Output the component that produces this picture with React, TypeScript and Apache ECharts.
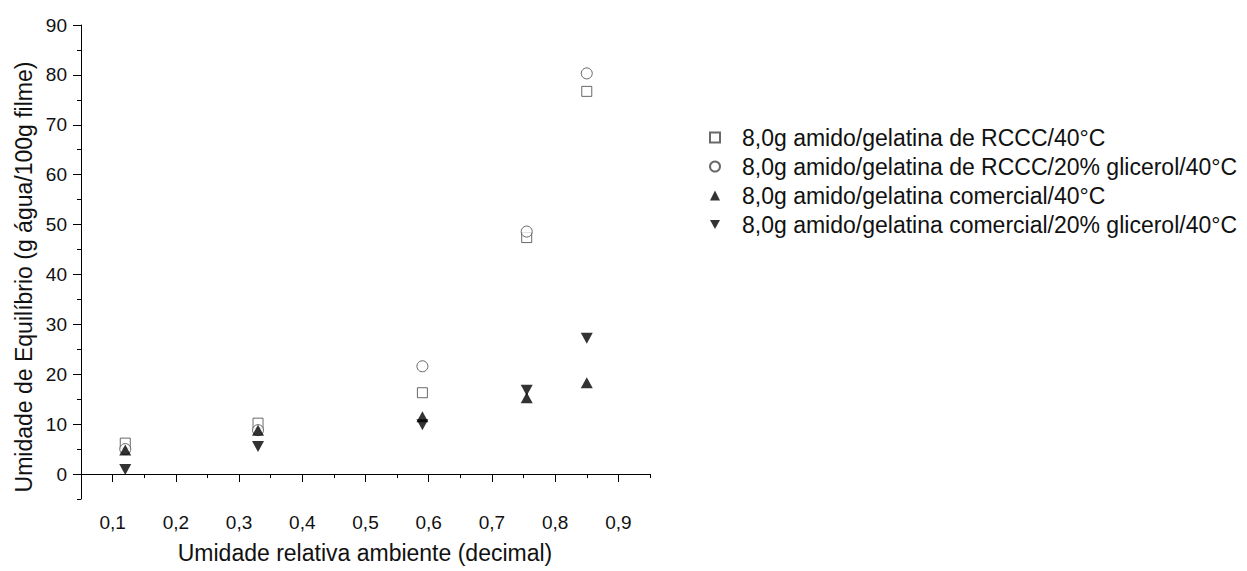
import React, { useEffect, useRef } from "react";
import * as echarts from "echarts";

const humidity = [0.12, 0.33, 0.59, 0.755, 0.85];
const rcccPlain = [6.2, 10.2, 16.3, 47.4, 76.7];
const rcccGlycerol = [5.0, 8.8, 21.6, 48.6, 80.3];
const commercialPlain = [4.8, 8.8, 11.5, 15.3, 18.3];
const commercialGlycerol = [0.9, 5.5, 9.9, 16.8, 27.2];

const seriesNames = [
  "8,0g amido/gelatina de RCCC/40°C",
  "8,0g amido/gelatina de RCCC/20% glicerol/40°C",
  "8,0g amido/gelatina comercial/40°C",
  "8,0g amido/gelatina comercial/20% glicerol/40°C",
];
const xTitle = "Umidade relativa ambiente (decimal)";
const yTitle = "Umidade de Equilíbrio (g água/100g filme)";

const FONT = "'Liberation Sans', Arial, sans-serif";
const DOWN_TRIANGLE = "path://M0,0L12,0L6,11Z";

const toPoints = (vals: number[]) => humidity.map((x, i) => [x, vals[i]]);

export default function App() {
  const ref = useRef<HTMLDivElement>(null);
  useEffect(() => {
    document.body.style.margin = "0";
    if (!ref.current) return;
    const chart = echarts.init(ref.current, null, { renderer: "svg" });
    const axisLine = { show: true, lineStyle: { color: "#000", width: 1 } };
    const labelStyle = { color: "#111", fontSize: 19, fontFamily: FONT };
    chart.setOption({
      animation: false,
      backgroundColor: "#fff",
      grid: { left: 81, top: 25, right: 597, bottom: 72, containLabel: false },
      xAxis: [
        {
          type: "value",
          position: "bottom",
          min: 0.05,
          max: 0.95,
          interval: 0.05,
          axisLine,
          axisTick: { show: true, length: 4, lineStyle: { color: "#000" } },
          axisLabel: { show: false },
          splitLine: { show: false },
        },
        {
          type: "value",
          position: "bottom",
          min: 0.05,
          max: 0.95,
          splitNumber: 9,
          axisLine: { show: false },
          axisTick: { show: true, length: 8, lineStyle: { color: "#000" } },
          axisLabel: {
            ...labelStyle,
            margin: 14,
            showMinLabel: false,
            showMaxLabel: false,
            formatter: (v: number) => v.toFixed(1).replace(".", ","),
          },
          splitLine: { show: false },
        },
      ],
      yAxis: [
        {
          type: "value",
          position: "left",
          min: -5,
          max: 90,
          interval: 5,
          axisLine,
          axisTick: { show: true, length: 4, lineStyle: { color: "#000" } },
          axisLabel: { show: false },
          splitLine: { show: false },
        },
        {
          type: "value",
          position: "left",
          min: -5,
          max: 90,
          splitNumber: 10,
          axisLine: { show: false },
          axisTick: { show: true, length: 8, lineStyle: { color: "#000" } },
          axisLabel: { ...labelStyle, margin: 14, showMinLabel: false },
          splitLine: { show: false },
        },
      ],
      legend: {
        orient: "vertical",
        left: 704,
        top: 120,
        itemWidth: 10,
        itemHeight: 10,
        itemGap: 4,
        textStyle: { color: "#111", fontSize: 23, fontFamily: FONT, padding: [0, 0, 0, 17], lineHeight: 25 },
        data: seriesNames,
      },
      graphic: [
        {
          type: "text",
          x: 24,
          y: 277,
          rotation: Math.PI / 2,
          style: { text: yTitle, fontSize: 23, fontFamily: FONT, fill: "#111", align: "center", verticalAlign: "middle" },
        },
        {
          type: "text",
          x: 365,
          y: 553,
          style: { text: xTitle, fontSize: 23, fontFamily: FONT, fill: "#111", align: "center", verticalAlign: "middle" },
        },
      ],
      series: [
        {
          type: "scatter",
          name: seriesNames[0],
          data: toPoints(rcccPlain),
          symbol: "rect",
          symbolSize: 10,
          itemStyle: { color: "#fff", borderColor: "#444", borderWidth: 1 },
        },
        {
          type: "scatter",
          name: seriesNames[1],
          data: toPoints(rcccGlycerol),
          symbol: "circle",
          symbolSize: 11,
          itemStyle: { color: "#fff", borderColor: "#444", borderWidth: 1 },
        },
        {
          type: "scatter",
          name: seriesNames[2],
          data: toPoints(commercialPlain),
          symbol: "triangle",
          symbolSize: [12, 11],
          itemStyle: { color: "#000" },
        },
        {
          type: "scatter",
          name: seriesNames[3],
          data: toPoints(commercialGlycerol),
          symbol: DOWN_TRIANGLE,
          symbolSize: [12, 11],
          itemStyle: { color: "#000" },
        },
      ],
    });
    return () => chart.dispose();
  }, []);
  return <div ref={ref} style={{ width: 1247, height: 571 }} />;
}
